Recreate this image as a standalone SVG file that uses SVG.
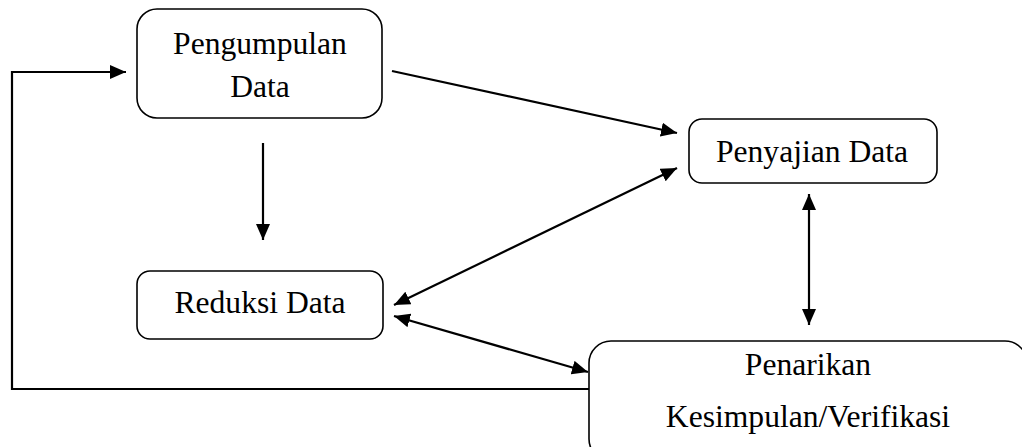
<svg xmlns="http://www.w3.org/2000/svg" width="1022" height="447" viewBox="0 0 1022 447">
<style>
.box{fill:#fff;stroke:#000;stroke-width:1.6}
.t{font-family:"Liberation Serif","Times New Roman",serif;font-size:31.6px;fill:#000;text-anchor:middle}
.c{fill:none;stroke:#000;stroke-width:2.2}
</style>
<defs>
<marker id="ah" viewBox="0 0 16 14" refX="16" refY="7" markerWidth="16" markerHeight="14" markerUnits="userSpaceOnUse" orient="auto-start-reverse">
<path d="M0,0 L16,7 L0,14 Z" fill="#000"/>
</marker>
</defs>
<rect width="1022" height="447" fill="#fff"/>
<g id="connectors">
<polyline class="c" points="590,389 12,389 12,72 126,72" marker-end="url(#ah)"/>
<line class="c" x1="392" y1="71" x2="677" y2="133" marker-end="url(#ah)"/>
<line class="c" x1="263" y1="143" x2="263" y2="240" marker-end="url(#ah)"/>
<line class="c" x1="677" y1="168" x2="394" y2="305" marker-start="url(#ah)" marker-end="url(#ah)"/>
<line class="c" x1="394" y1="316" x2="588" y2="372" marker-start="url(#ah)" marker-end="url(#ah)"/>
<line class="c" x1="809" y1="194" x2="809" y2="325" marker-start="url(#ah)" marker-end="url(#ah)"/>
</g>
<g id="pengumpulan">
<rect class="box" x="137" y="9" width="245" height="109" rx="20"/>
<text class="t" x="260" y="54">Pengumpulan</text>
<text class="t" x="260" y="97">Data</text>
</g>
<g id="penyajian">
<rect class="box" x="689" y="119" width="248" height="64" rx="13"/>
<text class="t" x="812" y="162">Penyajian Data</text>
</g>
<g id="reduksi">
<rect class="box" x="137" y="271" width="246" height="68" rx="13"/>
<text class="t" x="260" y="313">Reduksi Data</text>
</g>
<g id="penarikan">
<rect class="box" x="589" y="341" width="438" height="120" rx="22"/>
<text class="t" x="808" y="375">Penarikan</text>
<text class="t" x="808" y="427">Kesimpulan/Verifikasi</text>
</g>
</svg>
